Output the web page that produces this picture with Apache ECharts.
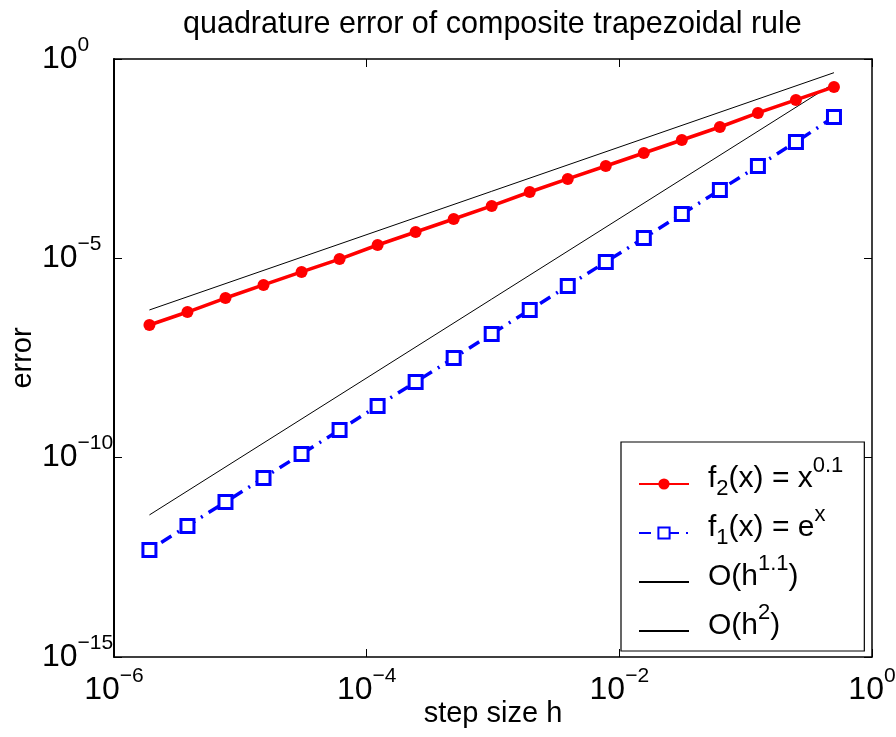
<!DOCTYPE html>
<html>
<head>
<meta charset="utf-8">
<script src="https://cdn.jsdelivr.net/npm/echarts@6/dist/echarts.min.js"></script>
<style>
  html, body { margin: 0; padding: 0; background: #fff; }
  #chart { width: 896px; height: 737px; }
</style>
</head>
<body>
<div id="chart"></div>
<script>
// step sizes h = 2^-1 ... 2^-19
var stepSizes = [0.5, 0.25, 0.125, 0.0625, 0.03125, 0.015625, 0.0078125,
  0.00390625, 0.001953125, 9.765625e-4, 4.8828125e-4, 2.44140625e-4,
  1.220703125e-4, 6.103515625e-5, 3.0517578125e-5, 1.52587890625e-5,
  7.62939453125e-6, 3.814697265625e-6, 1.9073486328125e-6];

// f2(x) = x^0.1
var errPow = [0.199, 9.4e-2, 4.43e-2, 1.97e-2, 9.3e-3, 4.39e-3, 2.07e-3,
  9.8e-4, 4.61e-4, 2.06e-4, 9.7e-5, 4.58e-5, 2.16e-5, 9.6e-6, 4.55e-6,
  2.15e-6, 1.01e-6, 4.5e-7, 2.13e-7];

// f1(x) = e^x
var errExp = [3.51e-2, 8.28e-3, 2.07e-3, 5.18e-4, 1.29e-4, 3.24e-5, 8.11e-6,
  2.03e-6, 5.07e-7, 1.27e-7, 3.17e-8, 7.92e-9, 1.98e-9, 4.95e-10, 1.24e-10,
  3.1e-11, 7.74e-12, 1.94e-12, 4.84e-13];

// reference slopes, drawn between first and last step size
var refH = [0.5, 1.9073486328125e-6];
var refH11 = [0.454, 5.07e-7];
var refH2 = [0.246, 3.66e-12];

var seriesNames = ['f2', 'f1', 'h11', 'h2'];
var legendLabels = {
  f2: '{pad|}{n|f}{sub|2}{n|(x) = x}{sup|0.1}',
  f1: '{pad|}{n|f}{sub|1}{n|(x) = e}{sup|x}',
  h11: '{pad|}{n|O(h}{sup|1.1}{n|)}',
  h2: '{pad|}{n|O(h}{sup|2}{n|)}'
};

var FONT = '"Liberation Sans", Arial, Helvetica, sans-serif';

function pairs(xs, ys) {
  var out = [];
  for (var i = 0; i < xs.length; ++i) out.push([xs[i], ys[i]]);
  return out;
}

function expLabel(v) {
  var e = Math.round(Math.log(v) / Math.LN10);
  var s = e < 0 ? '\u2212' + (-e) : String(e);
  return '{b|10}{e|' + s + '}';
}

var tickRich = {
  b: { fontSize: 32, lineHeight: 32, fontFamily: FONT, color: '#000' },
  e: { fontSize: 21, lineHeight: 21, fontFamily: FONT, color: '#000', padding: [0, 0, 28, 0] }
};

var chart = echarts.init(document.getElementById('chart'), null, { renderer: 'canvas' });

chart.setOption({
  animation: false,
  backgroundColor: '#fff',
  title: {
    text: 'quadrature error of composite trapezoidal rule',
    left: 183,
    top: 9,
    padding: 0,
    textStyle: { fontFamily: FONT, fontSize: 30.5, fontWeight: 'normal', color: '#000' }
  },
  grid: { left: 114, right: 24, top: 59, bottom: 80, containLabel: false, outerBoundsMode: 'none' },
  legend: {
    orient: 'vertical',
    left: 621,
    top: 442,
    padding: [13, 21, 0, 17],
    itemGap: 0,
    itemWidth: 50,
    itemHeight: 14,
    backgroundColor: '#fff',
    borderColor: '#000',
    borderWidth: 1.2,
    data: [
      { name: 'f2' },
      { name: 'f1' },
      { name: 'h11', itemStyle: { opacity: 0 } },
      { name: 'h2', itemStyle: { opacity: 0 } }
    ],
    formatter: function (name) { return legendLabels[name]; },
    textStyle: {
      fontFamily: FONT,
      color: '#000',
      rich: {
        pad: { width: 14, fontSize: 10, lineHeight: 10 },
        n: { fontSize: 30, lineHeight: 42, fontFamily: FONT, color: '#000', padding: [0, 0, 10, 0] },
        sub: { fontSize: 22, lineHeight: 22, fontFamily: FONT, color: '#000', padding: [10, 0, 0, 0] },
        sup: { fontSize: 22, lineHeight: 2, height: 2, verticalAlign: 'top', fontFamily: FONT, color: '#000', padding: [2, 0, 0, 0] }
      }
    }
  },
  xAxis: [{
    type: 'log',
    logBase: 10,
    min: 1e-6,
    max: 1,
    interval: 2,
    splitNumber: 3,
    name: 'step size h',
    nameLocation: 'middle',
    nameGap: 42,
    nameMoveOverlap: false,
    nameTextStyle: { fontFamily: FONT, fontSize: 29, color: '#000', verticalAlign: 'top' },
    axisLine: { lineStyle: { color: '#000', width: 1.5 } },
    axisTick: { inside: true, length: 8, lineStyle: { color: '#000', width: 1 } },
    minorTick: { show: false },
    splitLine: { show: false },
    axisLabel: { margin: 17, formatter: expLabel, rich: tickRich }
  }, {
    type: 'log',
    logBase: 10,
    position: 'top',
    min: 1e-6,
    max: 1,
    interval: 2,
    splitNumber: 3,
    axisLine: { show: true, lineStyle: { color: '#000', width: 1.5 } },
    axisTick: { show: true, inside: true, length: 8, lineStyle: { color: '#000', width: 1 } },
    splitLine: { show: false },
    axisLabel: { show: false }
  }],
  yAxis: [{
    type: 'log',
    logBase: 10,
    min: 1e-15,
    max: 1,
    interval: 5,
    splitNumber: 3,
    name: 'error',
    nameLocation: 'middle',
    nameRotate: 90,
    nameGap: 77,
    nameMoveOverlap: false,
    nameTextStyle: { fontFamily: FONT, fontSize: 29, color: '#000' },
    axisLine: { lineStyle: { color: '#000', width: 2 } },
    axisTick: { inside: true, length: 8, lineStyle: { color: '#000', width: 1 } },
    splitLine: { show: false },
    axisLabel: { margin: 72, align: 'left', formatter: expLabel, rich: tickRich }
  }, {
    type: 'log',
    logBase: 10,
    position: 'right',
    min: 1e-15,
    max: 1,
    interval: 5,
    splitNumber: 3,
    axisLine: { show: true, lineStyle: { color: '#000', width: 1.5 } },
    axisTick: { show: true, inside: true, length: 8, lineStyle: { color: '#000', width: 1 } },
    splitLine: { show: false },
    axisLabel: { show: false }
  }],
  series: [{
    name: 'f2',
    type: 'line',
    data: pairs(stepSizes, errPow),
    symbol: 'circle',
    symbolSize: 12,
    itemStyle: { color: '#ff0000' },
    lineStyle: { color: '#ff0000', width: 3.5 },
    z: 4
  }, {
    name: 'f1',
    type: 'line',
    data: pairs(stepSizes, errExp),
    symbol: 'rect',
    symbolSize: 13,
    itemStyle: { color: '#fff', borderColor: '#0000ff', borderWidth: 3 },
    lineStyle: { color: '#0000ff', width: 3.5, type: [12, 7, 2, 7] },
    z: 4
  }, {
    name: 'h11',
    type: 'line',
    data: pairs(refH, refH11),
    symbol: 'none',
    itemStyle: { color: '#000' },
    lineStyle: { color: '#000', width: 1 },
    z: 3
  }, {
    name: 'h2',
    type: 'line',
    data: pairs(refH, refH2),
    symbol: 'none',
    itemStyle: { color: '#000' },
    lineStyle: { color: '#000', width: 1 },
    z: 3
  }]
});
</script>
</body>
</html>
